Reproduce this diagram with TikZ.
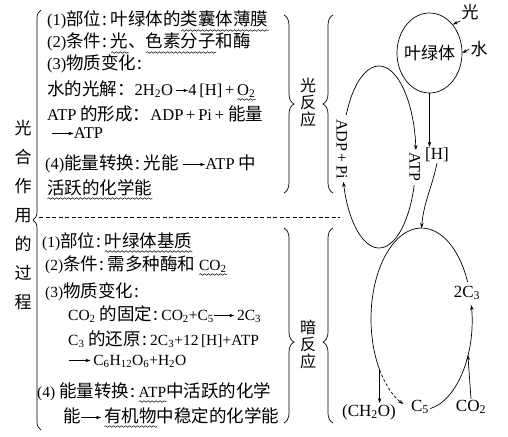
\documentclass[tikz,border=0pt]{standalone}
\usepackage{fontspec}
\setmainfont{Liberation Serif}
\newfontfamily\cjk{Noto Sans CJK SC}
\usetikzlibrary{arrows.meta,shapes.geometric,decorations.pathreplacing,decorations.pathmorphing,calc}
\newcommand\la[1]{{\rmfamily\fontsize{15.5}{17}\selectfont #1}}
\newcommand\lb[1]{{\rmfamily\fontsize{16.5}{18}\selectfont #1}}
\newcommand\sbs[1]{\textsubscript{#1}}
\newcommand\cl{\kern1.5pt:\kern3pt}
\newcommand\tarr[1]{\tikz[baseline=-4.5pt]\draw[line width=0.6pt,-{Stealth[length=5pt,width=3.4pt]}] (0pt,0pt) -- (#1,0pt);}
\newdimen\wavewd
\newsavebox\wavebox
\newcommand\uwv[1]{\sbox\wavebox{#1}\wavewd=\wd\wavebox\leavevmode\rlap{\tikz[baseline=0pt]\draw[line width=0.5pt, decorate, decoration={snake, amplitude=0.8pt, segment length=4pt}] (0pt,-4.5pt) -- (\wavewd,-4.5pt);}\usebox\wavebox}
\begin{document}
\begin{tikzpicture}[x=1pt,y=1pt,
  txt/.style={anchor=base west, inner sep=0pt, font=\cjk\fontsize{17.5}{20}\selectfont},
  vt/.style={inner sep=0pt, align=center, font=\cjk\fontsize{16}{17}\selectfont},
  lab/.style={inner sep=1pt, font=\fontsize{17}{19}\selectfont},
  rlab/.style={inner sep=1pt, rotate=-90, font=\fontsize{16}{18}\selectfont},
  zlab/.style={inner sep=1pt, font=\cjk\fontsize{17}{20}\selectfont},
  arr/.style={-{Stealth[length=5pt,width=3.5pt]}, line width=0.7pt},
  ln/.style={line width=0.7pt},
  brc/.style={decorate, decoration={brace, amplitude=#1}, line width=0.7pt},
  brc/.default=10pt,
  dsh/.style={dash pattern=on 4pt off 2.5pt, line width=0.7pt}]
\useasboundingbox (0,0) rectangle (508,-436);

% left vertical title
\node[inner sep=0pt, align=center, font=\cjk\fontsize{17}{29}\selectfont] (title) at (23,-215)
  {光\\合\\作\\用\\的\\过\\程};

% braces
\coordinate (b1s) at (41,-430); \coordinate (b1e) at (41,-10);
\draw[brc=8pt] (b1s) -- (b1e);
\coordinate (b2s) at (284,-15); \coordinate (b2e) at (284,-193);
\draw[brc] (b2s) -- (b2e);
\coordinate (b3s) at (333,-193); \coordinate (b3e) at (333,-15);
\draw[brc] (b3s) -- (b3e);
\coordinate (b4s) at (284,-228); \coordinate (b4e) at (284,-423);
\draw[decorate, decoration={brace, amplitude=10pt, aspect=0.585}, line width=0.7pt] (b4s) -- (b4e);
\coordinate (b5s) at (333,-423); \coordinate (b5e) at (333,-228);
\draw[decorate, decoration={brace, amplitude=10pt, aspect=0.415}, line width=0.7pt] (b5s) -- (b5e);

% dashed separator
\coordinate (ds) at (39,-217); \coordinate (de) at (340,-217);
\draw[dsh] (ds) -- (de);

% side labels
\node[vt] (gfy) at (308,-102) {光\\反\\应};
\node[vt] (afy) at (308,-344) {暗\\反\\应};

% upper text
\node[txt] (u1) at (47,-26) {\lb{(1)}部位\cl 叶绿体的\uwv{类囊体薄膜}};
\node[txt] (u2) at (47,-48) {\lb{(2)}条件\cl\uwv{光}、\uwv{色素分子}和酶};
\node[txt] (u3) at (47,-70) {\lb{(3)}物质变化\cl};
\node[txt] (u4) at (47,-95) {水的光解：\lb{2H\sbs{2}O\,\tarr{12pt}4\,[H]\,+\,\uwv{O\sbs{2}}}};
\node[txt] (u5) at (47,-120) {\lb{ATP} 的形成：\lb{ADP\,+\,Pi\,+} 能量};
\node[txt] (u6) at (51,-138) {\tarr{22pt}\lb{ATP}};
\node[txt] (u7) at (45,-169) {\lb{(4)}能量转换\cl 光能 \tarr{22pt}\lb{ATP} 中};
\node[txt] (u8) at (47,-194) {\uwv{活跃的化学能}};

% lower text
\node[txt] (d1) at (42,-247) {\la{(1)}部位\cl\uwv{叶绿体基质}};
\node[txt] (d2) at (45,-270) {\la{(2)}条件\cl 需多种酶和 \uwv{\la{CO\sbs{2}}}};
\node[txt] (d3) at (45,-297) {\la{(3)}物质变化\cl};
\node[txt] (d4) at (68,-320) {\la{CO\sbs{2}} 的固定\cl\la{CO\sbs{2}+C\sbs{5}}\tarr{20pt}\la{\,2C\sbs{3}}};
\node[txt] (d5) at (68,-345) {\la{C\sbs{3}} 的还原\cl\la{2C\sbs{3}+12\,[H]+ATP}};
\node[txt] (d6) at (68,-365) {\tarr{22pt}\la{\,C\sbs{6}H\sbs{12}O\sbs{6}+H\sbs{2}O}};
\node[txt] (d7) at (37,-397) {\la{(4)} 能量转换\cl\uwv{\la{ATP}}中活跃的化学};
\node[txt] (d8) at (63,-422) {能\tarr{20pt}\,\uwv{有机物}中稳定的化学能};

% chloroplast
\node[draw, ellipse, line width=0.7pt, minimum width=65pt, minimum height=80pt, inner sep=0pt] (chl) at (429.5,-53) {};
\node[zlab] (chlt) at (chl.center) {叶绿体};
\node[zlab] (guang) at (470,-12) {光};
\node[zlab] (shui) at (479,-49) {水};
\draw[arr] (guang.south west) -- (chl.north east);
\draw[arr] (shui.west) -- (chl.east);

\node[lab] (h) at (437,-155) {[H]};
\draw[arr] (chl.south) -- (chl.south |- h.north);

% ATP cycle
\node[rlab] (adp) at (342,-149) {ADP\,+\,Pi};
\node[rlab] (atp) at (415,-167) {ATP};
\coordinate (La) at ($(379,-157)+(152.5:37 and 91)$);
\coordinate (Lb) at ($(379,-157)+(-17.9:37 and 91)$);
\draw[arr] (La) arc[start angle=152.5, end angle=4.4, x radius=37, y radius=91];
\draw[arr] (Lb) arc[start angle=-17.9, end angle=-164.1, x radius=37, y radius=91];

% Calvin cycle
\node[lab] (c3) at (467,-293) {2C\sbs{3}};
\node[lab] (c5) at (420,-407) {C\sbs{5}};
\node[lab] (co2) at (471,-407) {CO\sbs{2}};
\node[lab] (ch2o) at (369,-412) {(CH\sbs{2}O)};
\coordinate (ltop) at (421.5,-228);
\coordinate (Ra) at ($(421.5,-319)+(-80:50.5 and 91)$);
\coordinate (Rb) at ($(421.5,-319)+(24:50.5 and 91)$);
\coordinate (Rc) at ($(421.5,-319)+(214:50.5 and 91)$);
\coordinate (Rd) at ($(421.5,-319)+(-23.3:50.5 and 91)$);
\draw[arr] (Ra) arc[start angle=-80, end angle=8.8, x radius=50.5, y radius=91];
\draw[ln] (Rb) arc[start angle=24, end angle=214, x radius=50.5, y radius=91];
\draw[arr, dash pattern=on 3pt off 2pt] (Rc) arc[start angle=214, end angle=249, x radius=50.5, y radius=91];
\draw[arr] (Rc) -- (Rc |- ch2o.north);
\draw[arr] (co2.north) -- (Rd);
\draw[arr] (h.south) to[out=-102, in=85] (ltop);
\end{tikzpicture}
\end{document}
